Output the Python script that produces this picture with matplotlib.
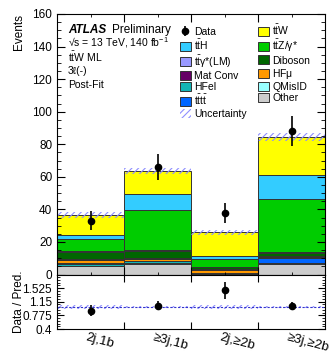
import numpy as np
import matplotlib
matplotlib.use("Agg")
import matplotlib.pyplot as plt
import matplotlib.transforms as mtransforms
from matplotlib.patches import Patch

plt.rcParams['font.family'] = ['Liberation Sans', 'DejaVu Sans']
plt.rcParams['mathtext.fontset'] = 'custom'
plt.rcParams['mathtext.rm'] = 'Liberation Sans'
plt.rcParams['mathtext.it'] = 'Liberation Sans:italic'
plt.rcParams['hatch.linewidth'] = 0.8

categories = ["2j,1b", "≥3j,1b", "2j,≥2b", "≥3j,≥2b"]

# Post-fit yields per region, stacked bottom to top
other   = [5.2, 6.7, 0.4, 6.7]
qmisid  = [0.3, 0.3, 0.1, 0.2]
hfel    = [1.0, 1.0, 0.2, 0.3]
tttt    = [0.3, 0.5, 0.3, 3.1]
hfmu    = [2.4, 1.3, 1.5, 0.5]
matconv = [0.6, 0.6, 0.6, 0.5]
diboson = [4.1, 4.0, 1.2, 1.8]
ttgamma = [0.3, 0.9, 0.2, 0.5]
ttz     = [7.4, 24.1, 5.3, 32.8]
tth     = [2.6, 9.8, 1.6, 14.6]
ttw     = [12.4, 14.3, 14.5, 23.3]

uncertainty = [1.8, 2.0, 1.5, 2.5]
data = [33, 66, 38, 88]

TTH = r"$\mathrm{t\bar{t}H}$"
TTG = r"$\mathrm{t\bar{t}\gamma}$*(LM)"
TTTT = r"$\mathrm{t\bar{t}t\bar{t}}$"
TTW = r"$\mathrm{t\bar{t}W}$"
TTZ = r"$\mathrm{t\bar{t}Z/\gamma}$*"
HFMU = r"HF$\mathrm{\mu}$"

samples = [
    ("Other", other, "#cccccc"),
    ("QMisID", qmisid, "#99ffff"),
    ("HFel", hfel, "#13b5b5"),
    (TTTT, tttt, "#0066ff"),
    (HFMU, hfmu, "#ff9900"),
    ("Mat Conv", matconv, "#660066"),
    ("Diboson", diboson, "#006600"),
    (TTG, ttgamma, "#9999ff"),
    (TTZ, ttz, "#00cc00"),
    (TTH, tth, "#33ccff"),
    (TTW, ttw, "#ffff00"),
]

W, H = 330, 353
fig = plt.figure(figsize=(W / 100, H / 100), dpi=100)
left, right = 57 / W, 325 / W
ax = fig.add_axes([left, 1 - 274.5 / H, right - left, (274.5 - 14) / H])
rax = fig.add_axes([left, 1 - 329 / H, right - left, (329 - 274.5) / H], sharex=ax)

x = np.arange(len(categories))
edges = np.arange(len(categories) + 1) - 0.5
bottom = np.zeros(len(categories))
handles = {}
for name, vals, col in samples:
    v = np.array(vals)
    ax.bar(x, v, width=1.0, bottom=bottom, color=col, edgecolor="#333333",
           linewidth=0.7)
    handles[name] = Patch(facecolor=col, edgecolor="#333333", linewidth=0.7)
    bottom = bottom + v
total = bottom
unc = np.array(uncertainty)

hatch_col = "#8f8fff"
ax.bar(x, 2 * unc, width=1.0, bottom=total - unc, fill=False, hatch="/////",
       edgecolor=hatch_col, linewidth=0)

d = np.array(data, dtype=float)
derr = np.sqrt(d)
data_handle = ax.errorbar(x, d, yerr=derr, fmt="o", color="black", ms=4.5,
                          elinewidth=1.2, capsize=0, zorder=5)

ax.set_xlim(-0.5, len(categories) - 0.5)
ax.set_ylim(0, 160)
ax.set_yticks(np.arange(0, 161, 20))
ax.set_yticks(np.arange(0, 161, 5), minor=True)
ax.set_xticks(edges[1:-1])
ax.tick_params(axis="both", which="both", direction="in", top=True, right=True,
               labelsize=8.5)
ax.tick_params(axis="y", which="major", length=6)
ax.tick_params(axis="y", which="minor", length=3)
ax.tick_params(axis="x", which="major", length=6, labelbottom=False)
ax.set_ylabel("Events", fontsize=8.5, loc="top")

# ATLAS label block
tx = (68 - 57) / (325 - 57)
def ty(py):
    return 1 - (py - 14) / (274.5 - 14)
ax.text(tx, ty(30), "ATLAS", fontsize=8.5, fontweight="bold", style="italic",
        transform=ax.transAxes, va="center")
ax.text(tx + 0.165, ty(30), "Preliminary", fontsize=8.5, transform=ax.transAxes,
        va="center")
ax.text(tx, ty(42.5), "√s = 13 TeV, 140 fb$^{-1}$", fontsize=7.5,
        transform=ax.transAxes, va="center")
ax.text(tx, ty(56.5), TTW + " ML", fontsize=7.5,
        transform=ax.transAxes, va="center")
ax.text(tx, ty(71.5), "3ℓ(-)", fontsize=7.5, transform=ax.transAxes, va="center")
ax.text(tx, ty(85.5), "Post-Fit", fontsize=7.5, transform=ax.transAxes, va="center")

unc_handle = Patch(facecolor="none", edgecolor=hatch_col, hatch="/////", linewidth=0)
order = [
    ("Data", data_handle),
    (TTH, handles[TTH]),
    (TTG, handles[TTG]),
    ("Mat Conv", handles["Mat Conv"]),
    ("HFel", handles["HFel"]),
    (TTTT, handles[TTTT]),
    ("Uncertainty", unc_handle),
    (TTW, handles[TTW]),
    (TTZ, handles[TTZ]),
    ("Diboson", handles["Diboson"]),
    (HFMU, handles[HFMU]),
    ("QMisID", handles["QMisID"]),
    ("Other", handles["Other"]),
    ("", Patch(facecolor="none", edgecolor="none")),
]
leg = ax.legend([h for _, h in order], [l for l, _ in order], ncol=2,
                loc="upper left", bbox_to_anchor=(0.435, 0.99), frameon=False,
                fontsize=7.5, handlelength=1.05, handleheight=0.95,
                handletextpad=0.3, labelspacing=0.12, columnspacing=1.1,
                borderaxespad=0.2)

# Ratio panel
pred = total
ratio = d / pred
rerr = derr / pred
runc = unc / pred
rax.bar(x, 2 * runc, width=1.0, bottom=1 - runc, fill=False, hatch="/////",
        edgecolor=hatch_col, linewidth=0)
rax.axhline(1.0, color="#3333cc", lw=0.8, ls=(0, (2, 1.5)))
rax.errorbar(x, ratio, yerr=rerr, fmt="o", color="black", ms=4.5, elinewidth=1.2,
             capsize=0, zorder=5)
rax.set_ylim(0.4, 1.9)
rax.set_yticks([0.4, 0.775, 1.15, 1.525])
rax.set_yticklabels(["0.4", "0.775", "1.15", "1.525"])
rax.set_yticks(np.arange(0.4, 1.9, 0.075), minor=True)
rax.set_xticks(edges[1:-1])
rax.set_xticks(x, minor=True)
rax.tick_params(axis="both", which="both", direction="in", top=True, right=True,
                labelsize=8.5)
rax.tick_params(axis="x", which="major", length=5, labelbottom=False)
rax.tick_params(axis="x", which="minor", length=0)
rax.tick_params(axis="y", which="major", length=5)
rax.tick_params(axis="y", which="minor", length=2.5)
rax.set_xlim(-0.5, len(categories) - 0.5)
rax.set_ylabel("Data / Pred.", fontsize=8.5)

label_tr = rax.get_xaxis_transform() + mtransforms.ScaledTranslation(0, -2.5 / 100, fig.dpi_scale_trans)
for xi, lab in zip(x, categories):
    rax.text(xi - 0.04, 0.0, lab, transform=label_tr,
             rotation=-15, rotation_mode="anchor", ha="left", va="top",
             fontsize=9.5)

ax.yaxis.set_label_coords(-0.12, 1.0)
rax.yaxis.set_label_coords(-0.12, 0.5)

fig.savefig("out.png", dpi=100)
